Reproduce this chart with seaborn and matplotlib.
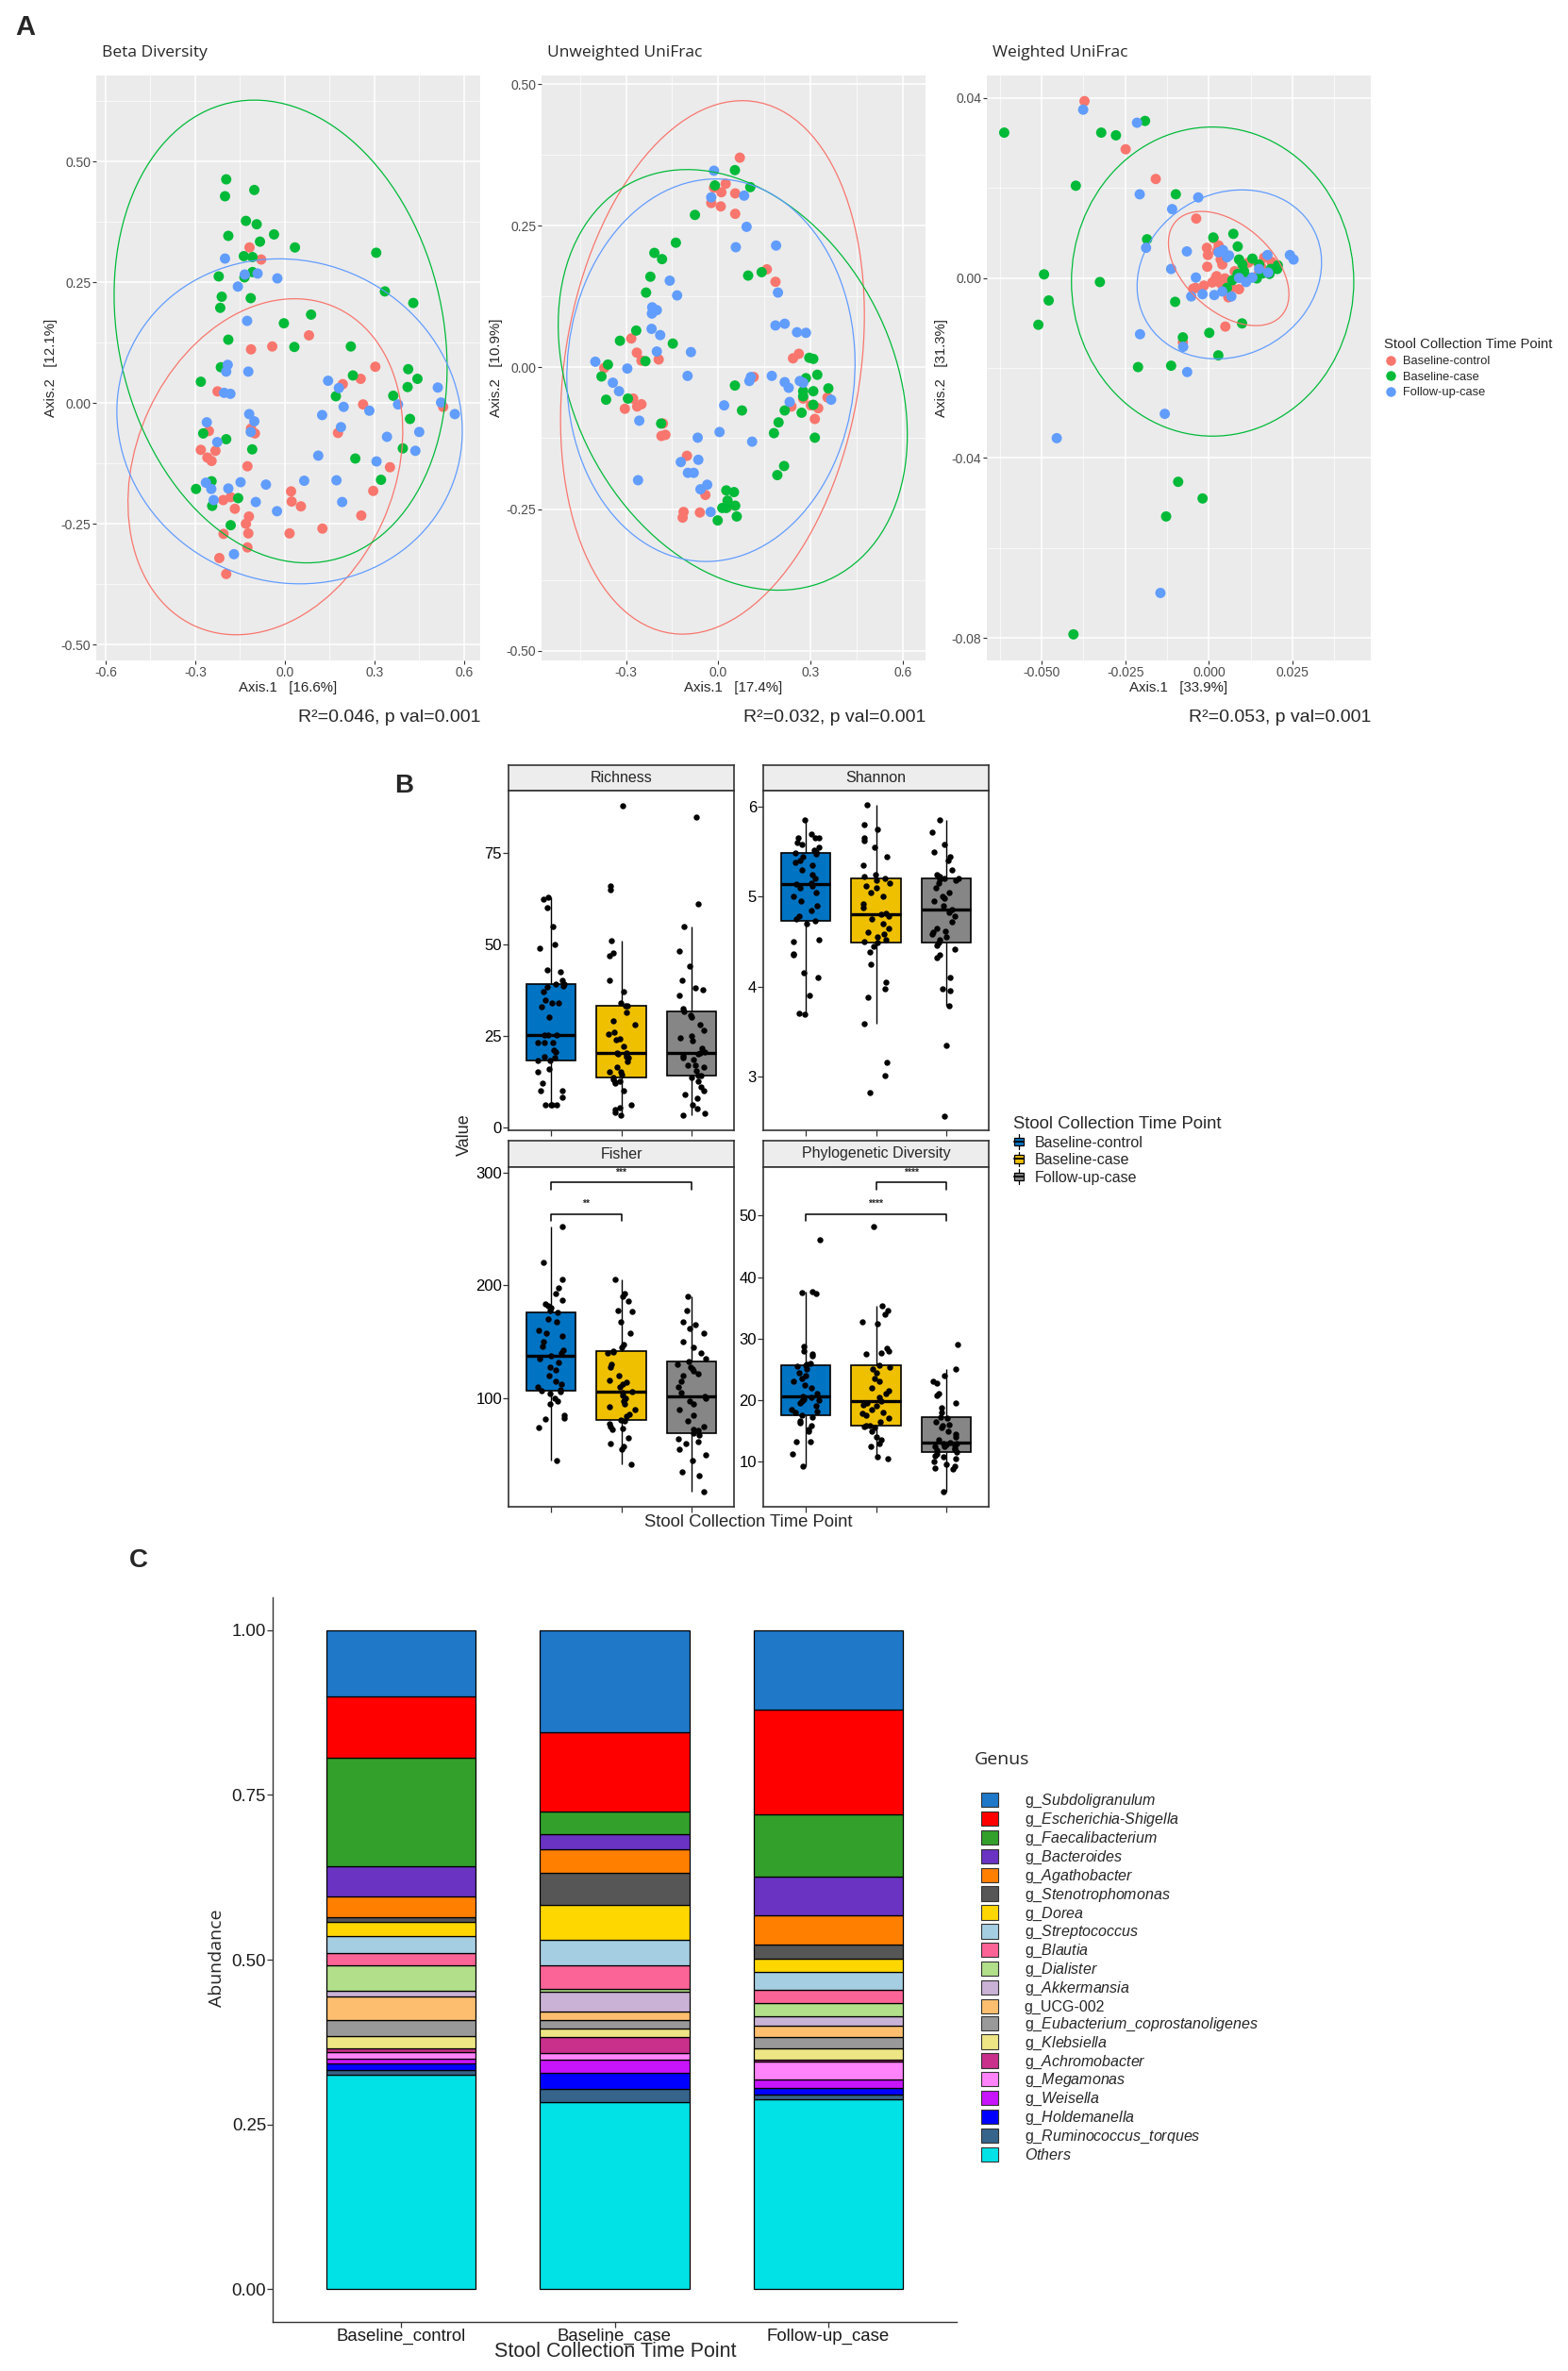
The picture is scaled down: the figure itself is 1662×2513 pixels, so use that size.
import numpy as np
import pandas as pd
import matplotlib
matplotlib.use("Agg")
import matplotlib.pyplot as plt
from matplotlib.patches import Ellipse, Rectangle, Patch
from matplotlib.lines import Line2D
from matplotlib.legend_handler import HandlerBase
import seaborn as sns

# ---------------- Panel A: PCoA ordinations ----------------
groups = ["Baseline-control", "Baseline-case", "Follow-up-case"]
pcoa_colors = ["#F8766D", "#00BA38", "#619CFF"]

# Beta Diversity
beta_ctrl_x = [-0.118, -0.079, 0.081, -0.042, -0.113, 0.303, 0.194, 0.254, -0.225, 0.262, 0.178, -0.254, -0.281,
               -0.259, -0.245, -0.232, -0.100, -0.113, -0.125, 0.352, 0.296, 0.021, 0.023, 0.054, -0.206, -0.167,
               -0.181, -0.120, -0.130, -0.122, -0.205, -0.125, 0.016, 0.126, 0.256, -0.219, -0.196, 0.530]
beta_ctrl_y = [0.322, 0.297, 0.140, 0.117, 0.111, 0.075, 0.039, 0.050, 0.024, -0.003, -0.062, -0.058, -0.097,
               -0.113, -0.120, -0.099, -0.063, -0.053, -0.131, -0.133, -0.182, -0.183, -0.204, -0.214, -0.201, -0.219,
               -0.195, -0.235, -0.250, -0.270, -0.271, -0.299, -0.270, -0.260, -0.233, -0.321, -0.354, -0.008]
beta_case_x = [-0.196, -0.200, -0.102, -0.130, -0.094, -0.189, -0.083, -0.036, 0.034, 0.306, -0.137, -0.108, -0.221,
               -0.135, -0.108, -0.211, -0.114, -0.216, 0.335, 0.430, 0.088, -0.003, -0.189, 0.032, 0.221, -0.214,
               -0.281, 0.413, 0.444, 0.228, 0.411, 0.363, 0.171, 0.419, -0.273, -0.196, -0.109, 0.395, 0.236, 0.322,
               -0.297, -0.245, -0.243, -0.156, -0.181]
beta_case_y = [0.463, 0.428, 0.441, 0.377, 0.370, 0.346, 0.334, 0.349, 0.322, 0.311, 0.304, 0.302, 0.262, 0.260,
               0.271, 0.220, 0.217, 0.197, 0.231, 0.207, 0.183, 0.165, 0.131, 0.116, 0.117, 0.074, 0.044, 0.070,
               0.050, 0.057, 0.033, 0.015, 0.014, -0.033, -0.063, -0.075, -0.096, -0.094, -0.115, -0.159, -0.178,
               -0.162, -0.213, -0.197, -0.253]
beta_fu_x = [-0.200, -0.091, -0.025, -0.134, -0.157, -0.126, -0.122, -0.191, -0.196, -0.203, -0.182, 0.145, 0.181,
             0.197, 0.283, 0.379, 0.512, 0.523, 0.569, 0.125, 0.188, -0.119, -0.102, -0.114, -0.261, -0.226, 0.342,
             0.450, 0.437, 0.112, 0.307, -0.264, -0.246, -0.238, -0.189, -0.148, -0.063, 0.065, 0.173, 0.192,
             -0.097, -0.026, -0.170]
beta_fu_y = [0.299, 0.268, 0.258, 0.266, 0.241, 0.170, 0.065, 0.079, 0.065, 0.021, 0.019, 0.046, 0.031, -0.008,
             -0.016, -0.003, 0.032, 0.001, -0.023, -0.025, -0.050, -0.023, -0.038, -0.060, -0.040, -0.081, -0.070,
             -0.060, -0.099, -0.109, -0.121, -0.165, -0.178, -0.201, -0.177, -0.164, -0.169, -0.161, -0.160, -0.205,
             -0.205, -0.224, -0.313]
beta_ell_cx = [-0.065, -0.014, 0.016]
beta_ell_cy = [-0.132, 0.148, -0.038]
beta_ell_w = [0.944, 1.146, 1.157]
beta_ell_h = [0.662, 0.920, 0.671]
beta_ell_ang = [18.5, -23.0, -3.0]

# Unweighted UniFrac
unw_ctrl_x = [0.070, -0.014, 0.024, 0.010, -0.023, 0.008, 0.055, 0.055, 0.158, 0.186, -0.283, -0.265, -0.250,
              -0.194, -0.371, 0.243, 0.262, -0.277, -0.264, -0.250, -0.304, -0.180, -0.172, -0.185, 0.301, 0.314,
              0.355, 0.238, 0.115, -0.102, -0.042, -0.113, -0.116, -0.060, 0.030, 0.276, 0.325]
unw_ctrl_y = [0.370, 0.317, 0.324, 0.309, 0.290, 0.284, 0.307, 0.271, 0.173, 0.151, 0.051, 0.026, 0.012, 0.014,
              -0.001, 0.016, 0.024, -0.055, -0.069, -0.065, -0.073, -0.099, -0.119, -0.121, -0.067, -0.091, -0.053,
              -0.069, -0.017, -0.156, -0.225, -0.255, -0.265, -0.256, -0.246, -0.055, -0.072]
unw_case_x = [0.054, -0.011, 0.104, -0.076, -0.138, -0.208, -0.183, -0.221, -0.235, -0.267, -0.320, -0.148, 0.097,
              0.141, -0.359, -0.380, -0.365, -0.237, -0.294, -0.186, 0.296, 0.309, 0.322, 0.285, 0.276, 0.276, 0.309,
              0.358, 0.314, 0.216, 0.271, 0.309, 0.181, 0.196, 0.192, 0.214, 0.054, 0.077, 0.026, 0.051, 0.030,
              0.055, 0.026, 0.060, -0.002, 0.013]
unw_case_y = [0.348, 0.321, 0.318, 0.269, 0.220, 0.202, 0.191, 0.160, 0.132, 0.065, 0.047, 0.042, 0.162, 0.168,
              0.005, -0.016, -0.057, 0.011, -0.055, -0.099, 0.017, 0.015, -0.013, -0.019, -0.042, -0.051, -0.042,
              -0.037, -0.124, -0.076, -0.080, -0.066, -0.116, -0.097, -0.190, -0.174, -0.032, -0.076, -0.217,
              -0.220, -0.235, -0.244, -0.248, -0.263, -0.270, -0.248]
unw_fu_x = [-0.014, -0.023, 0.084, 0.092, 0.057, 0.188, -0.158, -0.134, -0.215, -0.200, -0.216, -0.217, -0.189,
            0.194, 0.186, 0.216, 0.256, 0.285, -0.089, -0.200, -0.296, -0.400, -0.343, -0.323, -0.257, -0.100, 0.174,
            0.216, 0.229, 0.265, 0.232, 0.106, 0.101, 0.019, 0.004, 0.110, -0.067, -0.122, -0.099, -0.080, -0.065,
            -0.261, -0.058, -0.036, -0.025, 0.367, 0.276]
unw_fu_y = [0.347, 0.300, 0.303, 0.248, 0.212, 0.215, 0.153, 0.127, 0.106, 0.101, 0.095, 0.068, 0.057, 0.132, 0.074,
            0.077, 0.062, 0.061, 0.027, 0.028, -0.002, 0.010, -0.027, -0.042, -0.094, -0.015, -0.015, -0.026, -0.036,
            -0.024, -0.061, -0.017, -0.024, -0.067, -0.114, -0.131, -0.124, -0.167, -0.186, -0.186, -0.163, -0.199,
            -0.215, -0.207, -0.255, -0.057, -0.027]
unw_ell_cx = [-0.019, 0.047, -0.024]
unw_ell_cy = [0.000, -0.022, -0.005]
unw_ell_w = [1.058, 1.162, 0.938]
unw_ell_h = [0.862, 0.700, 0.674]
unw_ell_ang = [38.0, -15.4, 3.0]

# Weighted UniFrac
wu_ctrl_x = [-0.0372, -0.0249, -0.0159, -0.0038, 0.0014, -0.0006, -0.0003, 0.0029, -0.0005, 0.0023, 0.0048, 0.0035,
             0.0020, -0.0015, -0.0040, -0.0047, 0.0067, 0.0058, 0.0077, 0.0118, 0.0156, 0.0149, 0.0187, 0.0049,
             -0.0078, 0.0035, 0.0100, 0.0130, 0.0165, 0.0090, 0.0040, 0.0010, 0.0110, 0.0025]
wu_ctrl_y = [0.0393, 0.0286, 0.0220, 0.0132, 0.0088, 0.0067, 0.0051, 0.0072, 0.0025, 0.0004, -0.0001, -0.0012,
             -0.0001, -0.0017, -0.0022, -0.0024, -0.0022, -0.0043, 0.0015, 0.0034, 0.0025, 0.0009, 0.0036, -0.0108,
             -0.0143, 0.0041, 0.0010, 0.0040, 0.0045, -0.0025, 0.0030, -0.0010, -0.0005, 0.0060]
wu_case_x = [-0.0612, -0.0322, -0.0278, -0.0191, -0.0398, -0.0099, -0.0185, -0.0493, -0.0326, -0.0479, -0.0510,
             0.0013, 0.0073, 0.0086, 0.0090, 0.0130, 0.0206, 0.0204, 0.0105, 0.0086, 0.0054, 0.0099, 0.0001,
             -0.0101, -0.0078, 0.0028, -0.0113, -0.0212, -0.0092, -0.0019, -0.0128, -0.0405, 0.0143, 0.0181,
             0.0120, 0.0160, 0.0070, 0.0150, 0.0185, 0.0100]
wu_case_y = [0.0323, 0.0323, 0.0317, 0.0349, 0.0205, 0.0186, 0.0086, 0.0008, -0.0009, -0.0050, -0.0104, 0.0090,
             0.0098, 0.0070, 0.0041, 0.0043, 0.0028, 0.0020, 0.0015, 0.0009, -0.0022, -0.0101, -0.0122, -0.0053,
             -0.0132, -0.0172, -0.0195, -0.0198, -0.0453, -0.0490, -0.0530, -0.0792, -0.0001, 0.0009, 0.0000,
             0.0010, -0.0005, 0.0030, 0.0020, 0.0030]
wu_fu_x = [-0.0376, -0.0215, -0.0207, -0.0110, -0.0032, -0.0188, -0.0066, -0.0113, -0.0039, -0.0053, -0.0019,
           0.0016, 0.0067, 0.0029, 0.0054, 0.0111, 0.0130, 0.0177, 0.0175, 0.0242, 0.0253, -0.0206, -0.0077,
           -0.0065, -0.0132, -0.0455, -0.0145, 0.0042, 0.0090, 0.0040, 0.0150, 0.0060]
wu_fu_y = [0.0374, 0.0345, 0.0186, 0.0153, 0.0179, 0.0067, 0.0059, 0.0020, 0.0001, -0.0041, -0.0036, -0.0038,
           -0.0041, 0.0057, 0.0046, -0.0009, 0.0001, 0.0012, 0.0051, 0.0051, 0.0041, -0.0125, -0.0153, -0.0209,
           -0.0302, -0.0356, -0.0700, 0.0062, 0.0000, -0.0030, 0.0020, 0.0050]
wu_ell_cx = [0.0059, 0.0011, 0.0061]
wu_ell_cy = [0.0021, -0.0008, 0.0008]
wu_ell_w = [0.0387, 0.0844, 0.0556]
wu_ell_h = [0.0211, 0.0687, 0.0369]
wu_ell_ang = [-25.8, 0.0, 9.7]

pcoa_titles = ["Beta Diversity", "Unweighted UniFrac", "Weighted UniFrac"]
pcoa_xlabels = ["Axis.1   [16.6%]", "Axis.1   [17.4%]", "Axis.1   [33.9%]"]
pcoa_ylabels = ["Axis.2   [12.1%]", "Axis.2   [10.9%]", "Axis.2   [31.3%]"]
pcoa_stats = ["R\u00b2=0.046, p val=0.001", "R\u00b2=0.032, p val=0.001", "R\u00b2=0.053, p val=0.001"]

beta_xticks = [-0.6, -0.3, 0.0, 0.3, 0.6]
beta_xticklabels = ["-0.6", "-0.3", "0.0", "0.3", "0.6"]
beta_yticks = [-0.5, -0.25, 0.0, 0.25, 0.5]
beta_yticklabels = ["-0.50", "-0.25", "0.00", "0.25", "0.50"]
unw_xticks = [-0.3, 0.0, 0.3, 0.6]
unw_xticklabels = ["-0.3", "0.0", "0.3", "0.6"]
wu_xticks = [-0.05, -0.025, 0.0, 0.025]
wu_xticklabels = ["-0.050", "-0.025", "0.000", "0.025"]
wu_yticks = [-0.08, -0.04, 0.0, 0.04]
wu_yticklabels = ["-0.08", "-0.04", "0.00", "0.04"]

# ---------------- Panel B: alpha diversity ----------------
box_colors = ["#0073C2", "#EFC000", "#868686"]
richness_ctrl = [6.2, 6.2, 6.2, 6.2, 8.1, 9.9, 10.0, 12.0, 15.0, 16.0, 18.1, 18.3, 19.1, 19.3, 20.6, 21.0, 23.2, 23.2,
                 23.2, 25.1, 25.1, 25.1, 30.0, 33.0, 33.9, 34.0, 34.6, 37.0, 38.2, 38.5, 39.0, 39.2, 40.1, 42.5, 42.9,
                 48.9, 49.9, 54.9, 59.9, 62.2, 62.8]
richness_case = [3.3, 4.1, 4.7, 5.3, 6.2, 10.0, 12.0, 12.2, 12.5, 13.0, 13.6, 14.3, 15.0, 15.0, 16.3, 18.0, 19.0, 19.3,
                 19.7, 20.0, 20.2, 20.2, 22.0, 24.0, 24.2, 25.3, 26.0, 27.9, 29.0, 31.3, 33.1, 33.1, 34.0, 36.9, 40.0,
                 46.9, 47.6, 50.9, 64.9, 65.9, 87.9]
richness_fu = [3.2, 3.8, 5.0, 6.0, 8.0, 9.0, 10.0, 11.0, 12.5, 13.5, 14.2, 14.2, 15.5, 16.5, 17.0, 17.0, 18.5, 19.0,
               19.5, 20.0, 20.2, 20.5, 21.5, 23.5, 24.5, 25.0, 26.5, 28.0, 30.0, 30.5, 31.6, 32.5, 36.0, 37.5, 38.0,
               40.0, 44.0, 48.0, 54.8, 60.9, 84.8]
shannon_ctrl = [3.69, 3.70, 3.90, 4.10, 4.15, 4.35, 4.36, 4.50, 4.52, 4.70, 4.73, 4.75, 4.78, 4.85, 4.90, 4.95, 5.00,
                5.05, 5.10, 5.12, 5.14, 5.15, 5.20, 5.25, 5.30, 5.35, 5.38, 5.40, 5.45, 5.48, 5.49, 5.50, 5.52, 5.55,
                5.58, 5.60, 5.65, 5.65, 5.66, 5.70, 5.85]
shannon_case = [2.82, 3.01, 3.16, 3.59, 3.88, 3.98, 4.05, 4.25, 4.38, 4.45, 4.49, 4.50, 4.52, 4.55, 4.58, 4.60, 4.65,
                4.70, 4.75, 4.78, 4.80, 4.82, 4.88, 4.92, 5.00, 5.05, 5.10, 5.12, 5.15, 5.18, 5.20, 5.22, 5.25, 5.35,
                5.45, 5.55, 5.62, 5.65, 5.75, 5.80, 6.02]
shannon_fu = [2.56, 3.35, 3.79, 3.95, 3.98, 4.10, 4.32, 4.35, 4.42, 4.46, 4.49, 4.52, 4.55, 4.58, 4.60, 4.62, 4.65,
              4.72, 4.78, 4.83, 4.86, 4.90, 4.95, 4.98, 5.00, 5.05, 5.10, 5.15, 5.18, 5.19, 5.20, 5.20, 5.22, 5.25,
              5.30, 5.40, 5.45, 5.50, 5.58, 5.72, 5.85]
fisher_ctrl = [45.0, 74.0, 82.0, 83.0, 85.0, 95.0, 98.0, 100.0, 104.0, 106.0, 106.9, 108.0, 110.0, 113.0, 115.0, 120.0,
               125.0, 128.0, 132.0, 135.0, 137.8, 140.0, 143.0, 146.0, 150.0, 155.0, 158.0, 160.0, 168.0, 170.0, 175.8,
               178.0, 180.0, 182.0, 184.0, 187.0, 193.0, 198.0, 205.0, 220.0, 251.7]
fisher_case = [41.4, 55.0, 58.0, 60.0, 65.0, 73.0, 73.5, 75.0, 78.0, 80.0, 81.4, 84.0, 86.0, 90.0, 93.0, 95.0, 98.0,
               100.0, 103.0, 105.0, 106.1, 110.0, 113.0, 114.0, 116.0, 120.0, 128.0, 130.0, 140.0, 141.0, 142.2, 145.0,
               148.0, 158.0, 168.0, 177.0, 178.0, 186.0, 190.0, 193.0, 205.3]
fisher_fu = [17.2, 32.0, 35.0, 45.0, 50.0, 55.0, 60.0, 62.0, 64.0, 68.0, 69.7, 72.0, 73.0, 75.0, 80.0, 85.0, 90.0, 95.0,
             98.0, 100.0, 102.2, 105.0, 110.0, 115.0, 120.0, 122.0, 124.0, 126.0, 128.0, 130.0, 132.5, 135.0, 140.0,
             145.0, 150.0, 158.0, 162.0, 165.0, 168.0, 178.0, 190.0]
pd_ctrl = [9.2, 11.2, 13.3, 13.3, 15.0, 15.2, 15.8, 16.3, 16.6, 17.2, 17.5, 18.0, 18.2, 18.5, 19.0, 19.5, 19.8, 20.0,
           20.2, 20.5, 20.6, 21.0, 22.0, 22.5, 23.0, 23.5, 24.0, 24.5, 25.0, 25.5, 25.6, 25.8, 26.0, 27.2, 27.5, 28.0,
           28.8, 37.4, 37.5, 37.6, 46.1]
pd_case = [10.5, 10.8, 12.5, 13.0, 13.5, 14.0, 15.0, 15.5, 15.7, 15.8, 15.9, 16.5, 17.0, 17.5, 17.8, 18.0, 18.5, 19.0,
           19.3, 19.6, 19.8, 20.5, 21.0, 21.5, 22.0, 23.0, 23.5, 24.5, 25.0, 25.3, 25.6, 27.5, 27.6, 28.0, 28.5, 32.5,
           32.8, 34.0, 34.5, 35.4, 48.2]
pd_fu = [5.1, 8.8, 9.0, 9.2, 9.5, 10.0, 10.5, 10.8, 11.0, 11.3, 11.6, 11.8, 12.0, 12.2, 12.4, 12.5, 12.7, 12.8, 12.9,
         13.0, 13.1, 13.5, 14.0, 14.5, 15.0, 15.5, 15.8, 16.0, 16.5, 17.0, 17.2, 18.0, 18.8, 19.5, 20.8, 21.0, 22.8,
         23.0, 24.0, 25.1, 29.0]

fisher_pairs = [(0, 1), (0, 2)]
fisher_bar_y = [263.3, 291.7]
fisher_leg_y = [257.5, 284.7]
fisher_stars = ["**", "***"]
fisher_star_y = [271.9, 300.0]
pd_pairs = [(0, 2), (1, 2)]
pd_bar_y = [50.3, 55.5]
pd_leg_y = [49.1, 54.2]
pd_stars = ["****", "****"]
pd_star_y = [51.9, 57.0]

# ---------------- Panel C: genus composition ----------------
samples = ["Baseline_control", "Baseline_case", "Follow-up_case"]
genus = ["g_Subdoligranulum", "g_Escherichia-Shigella", "g_Faecalibacterium", "g_Bacteroides", "g_Agathobacter",
         "g_Stenotrophomonas", "g_Dorea", "g_Streptococcus", "g_Blautia", "g_Dialister", "g_Akkermansia",
         "g_UCG-002", "g_Eubacterium_coprostanoligenes", "g_Klebsiella", "g_Achromobacter", "g_Megamonas",
         "g_Weisella", "g_Holdemanella", "g_Ruminococcus_torques", "Others"]
genus_labels = [r"g_$\mathit{Subdoligranulum}$", r"g_$\mathit{Escherichia}$-$\mathit{Shigella}$",
                r"g_$\mathit{Faecalibacterium}$", r"g_$\mathit{Bacteroides}$", r"g_$\mathit{Agathobacter}$",
                r"g_$\mathit{Stenotrophomonas}$", r"g_$\mathit{Dorea}$", r"g_$\mathit{Streptococcus}$",
                r"g_$\mathit{Blautia}$", r"g_$\mathit{Dialister}$", r"g_$\mathit{Akkermansia}$", "g_UCG-002",
                r"g_$\mathit{Eubacterium}$_$\mathit{coprostanoligenes}$", r"g_$\mathit{Klebsiella}$",
                r"g_$\mathit{Achromobacter}$", r"g_$\mathit{Megamonas}$", r"g_$\mathit{Weisella}$",
                r"g_$\mathit{Holdemanella}$", r"g_$\mathit{Ruminococcus}$_$\mathit{torques}$", r"$\mathit{Others}$"]
genus_colors = ["#1F78C8", "#FF0000", "#33A02C", "#6A33C2", "#FF7F00", "#565656", "#FFD700", "#A6CEE3", "#FB6496",
                "#B2DF8A", "#CAB2D6", "#FDBF6F", "#999999", "#EEE685", "#C8308C", "#FF83FA", "#C814FA", "#0000FF",
                "#36648B", "#00E2E5"]
abund_ctrl = [0.101, 0.093, 0.1635, 0.0465, 0.032, 0.007, 0.021, 0.026, 0.019, 0.038, 0.009, 0.035, 0.025, 0.018,
              0.007, 0.009, 0.008, 0.010, 0.007, 0.325]
abund_case = [0.1545, 0.120, 0.0345, 0.024, 0.035, 0.0495, 0.0525, 0.039, 0.036, 0.003, 0.031, 0.012, 0.013, 0.013,
              0.0255, 0.0095, 0.020, 0.024, 0.0205, 0.2835]
abund_fu = [0.121, 0.159, 0.094, 0.058, 0.045, 0.0215, 0.0195, 0.028, 0.020, 0.020, 0.0144, 0.0172, 0.0164, 0.018,
            0.0024, 0.0282, 0.0124, 0.0105, 0.0065, 0.288]

# ---------------- style ----------------
sns.set_theme(style="white")
plt.rcParams["font.family"] = ["Liberation Sans", "DejaVu Sans"]
plt.rcParams["mathtext.fontset"] = "custom"
plt.rcParams["mathtext.it"] = "Liberation Sans:italic"
plt.rcParams["mathtext.rm"] = "Liberation Sans"
TITLE_FONT = ["Open Sans", "DejaVu Sans"]

W, H = 1662, 2513
fig = plt.figure(figsize=(W / 100, H / 100), dpi=100)
fig.patch.set_facecolor("white")


def box(x0, y0, x1, y1):
    return [x0 / W, 1 - y1 / H, (x1 - x0) / W, (y1 - y0) / H]


def minor_between(ticks, lim):
    step = ticks[1] - ticks[0]
    m = np.arange(ticks[0] - step / 2, ticks[-1] + step, step)
    return [v for v in m if lim[0] <= v <= lim[1]]


def pcoa_frame(xs, ys):
    parts = [pd.DataFrame({"x": x, "y": y, "group": g}) for g, x, y in zip(groups, xs, ys)]
    return pd.concat(parts, ignore_index=True)


def draw_pcoa(rect, df, ell, xlim, ylim, xt, xtl, yt, ytl, title, xlab, ylab, stat):
    ax = fig.add_axes(box(*rect))
    ax.set_facecolor("#EBEBEB")
    sns.scatterplot(data=df, x="x", y="y", hue="group", hue_order=groups, palette=pcoa_colors,
                    s=62, linewidth=0, alpha=1, legend=False, ax=ax, zorder=3)
    for (cx, cy, w, h, a), c in zip(zip(*ell), pcoa_colors):
        ax.add_patch(Ellipse((cx, cy), w, h, angle=a, fill=False, ec=c, lw=0.9, zorder=4))
    ax.set_xlim(xlim)
    ax.set_ylim(ylim)
    ax.set_xticks(xt)
    ax.set_xticklabels(xtl)
    ax.set_xticks(minor_between(xt, xlim), minor=True)
    ax.set_yticks(yt)
    ax.set_yticklabels(ytl)
    ax.set_yticks(minor_between(yt, ylim), minor=True)
    ax.grid(True, which="major", color="white", lw=1.1)
    ax.grid(True, which="minor", color="white", lw=0.5)
    ax.set_axisbelow(True)
    for s in ax.spines.values():
        s.set_visible(False)
    ax.tick_params(which="major", length=3, width=0.8, color="#333333", labelsize=10,
                   labelcolor="#4D4D4D", pad=1, left=True, bottom=True)
    ax.tick_params(which="minor", length=0)
    ax.set_xlabel(xlab, fontsize=10.8, labelpad=2)
    ax.set_ylabel(ylab, fontsize=10.8, labelpad=3)
    fig.text((rect[0] + 6) / W, 1 - 56 / H, title, fontsize=12.5, family=TITLE_FONT, va="center", ha="left")
    fig.text(rect[2] / W, 1 - 760 / H, stat, fontsize=14, ha="right", va="center")
    return ax


draw_pcoa((102, 80, 509, 700),
          pcoa_frame([beta_ctrl_x, beta_case_x, beta_fu_x], [beta_ctrl_y, beta_case_y, beta_fu_y]),
          (beta_ell_cx, beta_ell_cy, beta_ell_w, beta_ell_h, beta_ell_ang),
          (-0.631, 0.654), (-0.533, 0.678), beta_xticks, beta_xticklabels, beta_yticks, beta_yticklabels,
          pcoa_titles[0], pcoa_xlabels[0], pcoa_ylabels[0], pcoa_stats[0])
draw_pcoa((574, 80, 981, 700),
          pcoa_frame([unw_ctrl_x, unw_case_x, unw_fu_x], [unw_ctrl_y, unw_case_y, unw_fu_y]),
          (unw_ell_cx, unw_ell_cy, unw_ell_w, unw_ell_h, unw_ell_ang),
          (-0.575, 0.674), (-0.517, 0.515), unw_xticks, unw_xticklabels, beta_yticks, beta_yticklabels,
          pcoa_titles[1], pcoa_xlabels[1], pcoa_ylabels[1], pcoa_stats[1])
draw_pcoa((1046, 80, 1453, 700),
          pcoa_frame([wu_ctrl_x, wu_case_x, wu_fu_x], [wu_ctrl_y, wu_case_y, wu_fu_y]),
          (wu_ell_cx, wu_ell_cy, wu_ell_w, wu_ell_h, wu_ell_ang),
          (-0.0664, 0.0484), (-0.085, 0.045), wu_xticks, wu_xticklabels, wu_yticks, wu_yticklabels,
          pcoa_titles[2], pcoa_xlabels[2], pcoa_ylabels[2], pcoa_stats[2])

dot_handles = [Line2D([], [], ls="", marker="o", ms=7.5, mfc=c, mec="none") for c in pcoa_colors]
fig.legend(dot_handles, groups, title="Stool Collection Time Point", loc="upper left",
           bbox_to_anchor=(1461 / W, 1 - 352 / H), frameon=False, fontsize=9.3, title_fontsize=10.7,
           handlelength=1.0, handletextpad=0.5, labelspacing=0.35, borderpad=0, alignment="left")


# ---------------- Panel B ----------------
def draw_facet(strip_rect, plot_rect, vals, name, ylim, yt, pairs=None, bar_y=None, leg_y=None, stars=None,
               star_y=None):
    sax = fig.add_axes(box(*strip_rect))
    sax.set_facecolor("#EDEDED")
    sax.set_xticks([])
    sax.set_yticks([])
    for s in sax.spines.values():
        s.set_color("#333333")
        s.set_linewidth(1.2)
    sax.text(0.5, 0.5, name, ha="center", va="center", fontsize=11.5, transform=sax.transAxes)

    ax = fig.add_axes(box(*plot_rect))
    df = pd.DataFrame({"group": np.repeat(groups, [len(v) for v in vals]), "value": np.concatenate(vals)})
    sns.boxplot(data=df, x="group", y="value", hue="group", order=groups, hue_order=groups, palette=box_colors,
                saturation=1, width=0.7, linewidth=1.2, linecolor="black", showfliers=False, showcaps=False,
                medianprops=dict(linewidth=2.4), whiskerprops=dict(linewidth=1.0), legend=False, ax=ax)
    sns.stripplot(data=df, x="group", y="value", order=groups, color="black", size=4.6, jitter=0.2,
                  linewidth=0, ax=ax, zorder=5)
    if pairs is not None:
        for (a, b), yb, yl, st, ys in zip(pairs, bar_y, leg_y, stars, star_y):
            ax.plot([a, a, b, b], [yl, yb, yb, yl], color="black", lw=1.1)
            ax.text((a + b) / 2, ys, st, ha="center", va="center", fontsize=7.5, fontweight="bold")
    ax.set_xlim(-0.6, 2.6)
    ax.set_ylim(ylim)
    ax.set_yticks(yt)
    ax.set_xticks([0, 1, 2])
    ax.set_xticklabels([])
    ax.set_xlabel("")
    ax.set_ylabel("")
    for s in ax.spines.values():
        s.set_color("#333333")
        s.set_linewidth(1.2)
    ax.tick_params(axis="both", length=4, width=0.9, color="#333333", labelsize=12, labelcolor="black", pad=1,
                   left=True, bottom=True)
    return ax


np.random.seed(3)
draw_facet((539, 811, 778, 838), (539, 838, 778, 1198), [richness_ctrl, richness_case, richness_fu],
           "Richness", (-0.86, 91.9), [0, 25, 50, 75])
draw_facet((809, 811, 1048, 838), (809, 838, 1048, 1198), [shannon_ctrl, shannon_case, shannon_fu],
           "Shannon", (2.40, 6.18), [3, 4, 5, 6])
draw_facet((539, 1209, 778, 1237), (539, 1237, 778, 1597), [fisher_ctrl, fisher_case, fisher_fu],
           "Fisher", (4.2, 304.7), [100, 200, 300], fisher_pairs, fisher_bar_y, fisher_leg_y, fisher_stars,
           fisher_star_y)
draw_facet((809, 1209, 1048, 1237), (809, 1237, 1048, 1597), [pd_ctrl, pd_case, pd_fu],
           "Phylogenetic Diversity", (2.65, 57.9), [10, 20, 30, 40, 50], pd_pairs, pd_bar_y, pd_leg_y, pd_stars,
           pd_star_y)

fig.text(492 / W, 1 - 1203 / H, "Value", rotation=90, ha="center", va="center", fontsize=13)
fig.text(793 / W, 1 - 1613 / H, "Stool Collection Time Point", ha="center", va="center", fontsize=13.3)


class BoxKey(HandlerBase):
    def create_artists(self, legend, orig_handle, xdescent, ydescent, width, height, fontsize, trans):
        x0, y0 = -xdescent, -ydescent
        fc = orig_handle.get_facecolor()
        whisk = Line2D([x0 + width / 2] * 2, [y0 - 0.15 * height, y0 + 1.15 * height], color="black", lw=0.9,
                       transform=trans)
        rect = Rectangle((x0 + 0.05 * width, y0 + 0.15 * height), 0.9 * width, 0.7 * height, fc=fc, ec="black",
                         lw=0.9, transform=trans)
        med = Line2D([x0 + 0.05 * width, x0 + 0.95 * width], [y0 + 0.5 * height] * 2, color="black", lw=1.4,
                     transform=trans)
        return [whisk, rect, med]


box_handles = [Patch(facecolor=c) for c in box_colors]
fig.legend(box_handles, groups, handler_map={Patch: BoxKey()}, title="Stool Collection Time Point",
           loc="upper left", bbox_to_anchor=(1066 / W, 1 - 1175 / H), frameon=False, fontsize=11.5,
           title_fontsize=13.3, handlelength=0.75, handleheight=0.8, handletextpad=0.7, labelspacing=0.22,
           borderpad=0, alignment="left")

# ---------------- Panel C ----------------
df_c = pd.DataFrame({
    "sample": np.repeat(samples, len(genus)),
    "genus": genus * len(samples),
    "abund": np.concatenate([abund_ctrl, abund_case, abund_fu]),
})
axc = fig.add_axes(box(289, 1693, 1014, 2461))
sns.histplot(data=df_c, x="sample", weights="abund", hue="genus", hue_order=genus, palette=genus_colors,
             multiple="stack", discrete=True, shrink=0.7, edgecolor="black", linewidth=0.9, alpha=1,
             legend=False, ax=axc)
axc.set_xlim(-0.6, 2.6)
axc.set_ylim(-0.05, 1.05)
axc.set_xticks([0, 1, 2])
axc.set_xticklabels(samples)
axc.set_yticks([0, 0.25, 0.5, 0.75, 1.0])
axc.set_yticklabels(["0.00", "0.25", "0.50", "0.75", "1.00"])
axc.set_xlabel("")
axc.set_ylabel("")
for side in ["top", "right"]:
    axc.spines[side].set_visible(False)
for side in ["left", "bottom"]:
    axc.spines[side].set_color("#333333")
    axc.spines[side].set_linewidth(1.0)
axc.tick_params(axis="both", length=4, width=0.9, color="#333333", labelsize=13.4, labelcolor="#1A1A1A", pad=1,
                left=True, bottom=True)
fig.text(230 / W, 1 - 2075 / H, "Abundance", rotation=90, ha="center", va="center", fontsize=14,
         family=TITLE_FONT)
fig.text(652 / W, 1 - 2493 / H, "Stool Collection Time Point", ha="center", va="center", fontsize=15.5)

# genus legend: title placed separately so the gap above the keys matches
fig.text(1033 / W, 1 - 1865 / H, "Genus", fontsize=14, family=TITLE_FONT, ha="left", va="center")
genus_handles = [Patch(facecolor=c, edgecolor="#333333", lw=0.8) for c in genus_colors]
fig.legend(genus_handles, genus_labels, loc="upper left", bbox_to_anchor=(1032 / W, 1 - 1892 / H),
           frameon=False, fontsize=11.5, handlelength=1.15, handleheight=1.1, handletextpad=1.7,
           labelspacing=0.1, borderpad=0)

# panel letters
fig.text(16 / W, 1 - 37 / H, "A", fontsize=21, fontweight="bold", va="baseline")
fig.text(418 / W, 1 - 840 / H, "B", fontsize=20, fontweight="bold", va="baseline")
fig.text(137 / W, 1 - 1661 / H, "C", fontsize=20, fontweight="bold", va="baseline")

fig.savefig("out.png", dpi=100, facecolor="white")
